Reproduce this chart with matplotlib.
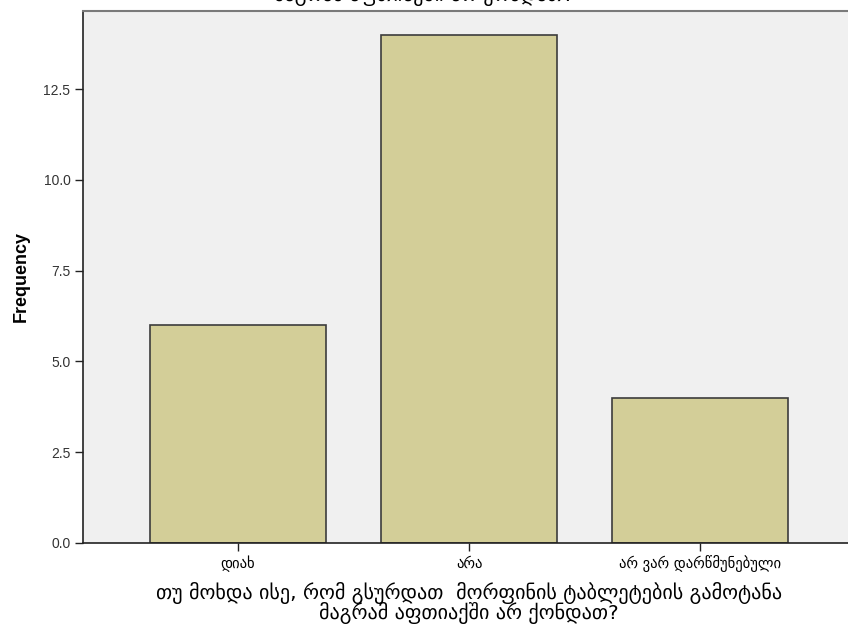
import matplotlib.pyplot as plt

# Data
categories = ["დიახ", "არა", "არ ვარ დარწმუნებული"]
frequencies = [6, 14, 4]
y_ticks = [0.0, 2.5, 5.0, 7.5, 10.0, 12.5]
question = ("თუ მოხდა ისე, რომ გსურდათ  მორფინის ტაბლეტების გამოტანა\n"
            "მაგრამ აფთიაქში არ ქონდათ?")

plt.rcParams["font.family"] = ["Liberation Sans", "DejaVu Sans"]

W, H = 848, 624
fig = plt.figure(figsize=(W / 100, H / 100), dpi=100)
fig.patch.set_facecolor("white")

# axes run past the right edge of the picture, as in the reference
left, right, top, bottom = 83, 855, 11, 543
ax = fig.add_axes([left / W, 1 - bottom / H, (right - left) / W, (bottom - top) / H])
ax.set_facecolor("#F0F0F0")

x = list(range(len(categories)))
ax.bar(x, frequencies, width=0.76, color="#D3CE98", edgecolor="#3C3C3C", linewidth=1.2)

ax.set_xlim(-0.67, 2.67)
ax.set_ylim(0, 14.65)
ax.set_yticks(y_ticks)
ax.set_yticklabels([f"{v:.1f}" for v in y_ticks], fontsize=10, color="#333333")
ax.set_xticks(x)
ax.set_xticklabels(categories, fontsize=10.5, family=["DejaVu Sans"])
ax.tick_params(axis="both", length=6, width=1, color="#222222", pad=3)

for side in ["left", "bottom"]:
    ax.spines[side].set_color("#222222")
    ax.spines[side].set_linewidth(1.2)
for side in ["top", "right"]:
    ax.spines[side].set_color("#7A7A7A")
    ax.spines[side].set_linewidth(1.5)

ax.set_ylabel("Frequency", fontsize=13, fontweight="bold", labelpad=10)
ax.set_xlabel(question, fontsize=14.5, family=["DejaVu Sans"], labelpad=7, linespacing=0.86)

# chart title, mostly cut off at the top of the picture
fig.text(0.5, 1 - 6 / H, question, ha="center", va="bottom", fontsize=14.5,
         family=["DejaVu Sans"], linespacing=0.86)

fig.savefig("out.png", dpi=100)
